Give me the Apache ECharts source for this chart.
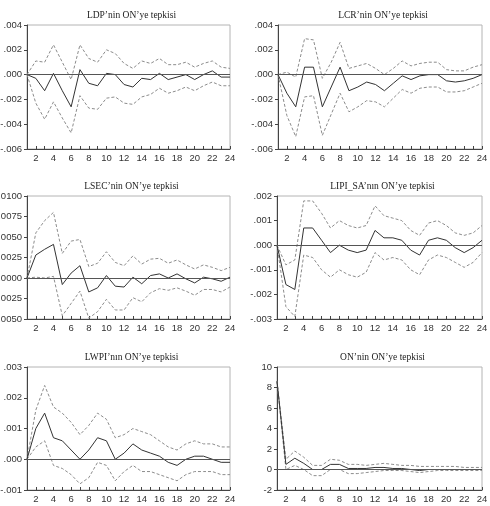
<!DOCTYPE html>
<html>
<head>
<meta charset="utf-8">
<script src="https://cdn.jsdelivr.net/npm/echarts@6/dist/echarts.min.js"></script>
<style>
html, body { margin: 0; padding: 0; background: #fff; }
#chart { width: 490px; height: 506px; }
</style>
</head>
<body>
<div id="chart"></div>
<script>
// periods 1..24
const periods = Array.from({ length: 24 }, (_, i) => String(i + 1))

const titles = [
  'LDP’nin ON’ye tepkisi',
  'LCR’nin ON’ye tepkisi',
  'LSEC’nin ON’ye tepkisi',
  'LIPI_SA’nın ON’ye tepkisi',
  'LWPI’nın ON’ye tepkisi',
  'ON’nin ON’ye tepkisi'
]

// LDP
const ldpMid = [0, -0.0003, -0.0013, 0.0001, -0.0013, -0.0026, 0.0004, -0.0007, -0.0009, 0.0001, 0.0000, -0.0008, -0.001, -0.0003, -0.0004, 0.0001, -0.0004, -0.0002, 0.0000, -0.0004, 0.0000, 0.0003, -0.0002, -0.0002]
const ldpUp = [0, 0.0011, 0.001, 0.0024, 0.001, -0.0004, 0.0024, 0.0013, 0.001, 0.002, 0.0017, 0.0009, 0.0005, 0.0011, 0.0009, 0.0013, 0.0008, 0.0008, 0.001, 0.0006, 0.0009, 0.0011, 0.0006, 0.0005]
const ldpLo = [0, -0.0023, -0.0036, -0.0022, -0.0035, -0.0047, -0.0017, -0.0027, -0.0028, -0.0019, -0.0018, -0.0023, -0.0024, -0.0018, -0.0016, -0.0011, -0.0015, -0.0013, -0.001, -0.0013, -0.0009, -0.0006, -0.0009, -0.0009]

// LCR
const lcrMid = [0, -0.0015, -0.0026, 0.0006, 0.0006, -0.0026, -0.001, 0.0006, -0.0013, -0.001, -0.0006, -0.0008, -0.0013, -0.0007, -0.0001, -0.0004, -0.0001, 0.0000, 0.0000, -0.0005, -0.0006, -0.0005, -0.0003, 0.0000]
const lcrUp = [0, 0.0002, -0.0002, 0.0029, 0.0028, -0.0003, 0.001, 0.0026, 0.0005, 0.0007, 0.0009, 0.0005, 0.0000, 0.0005, 0.0011, 0.0007, 0.0009, 0.001, 0.001, 0.0004, 0.0003, 0.0003, 0.0006, 0.0008]
const lcrLo = [0, -0.0033, -0.005, -0.0018, -0.0017, -0.0049, -0.0032, -0.0015, -0.003, -0.0026, -0.0021, -0.0022, -0.0026, -0.0019, -0.0012, -0.0015, -0.0011, -0.001, -0.001, -0.0014, -0.0014, -0.0013, -0.001, -0.0007]

// LSEC
const lsecMid = [0, 0.0028, 0.0035, 0.0041, -0.0008, 0.0006, 0.0015, -0.0017, -0.0012, 0.0003, -0.001, -0.0011, 0.0001, -0.0007, 0.0003, 0.0005, 0.0000, 0.0005, -0.0001, -0.0006, 0.0001, -0.0001, -0.0004, 0.0001]
const lsecUp = [0, 0.0055, 0.007, 0.008, 0.003, 0.0045, 0.0047, 0.0014, 0.0018, 0.0032, 0.0019, 0.0015, 0.0027, 0.0017, 0.0023, 0.0024, 0.0018, 0.0022, 0.0016, 0.0011, 0.0016, 0.0013, 0.0009, 0.0013]
const lsecLo = [0, 0.0001, 0.0000, 0.0002, -0.0046, -0.0031, -0.0016, -0.0049, -0.0041, -0.0026, -0.0039, -0.0039, -0.0024, -0.0029, -0.0018, -0.0013, -0.0015, -0.0012, -0.0016, -0.0021, -0.0014, -0.0014, -0.0017, -0.0011]

// LIPI_SA
const lipiMid = [0, -0.0016, -0.0018, 0.0007, 0.0007, 0.0002, -0.0003, 0.0000, -0.0002, -0.0003, -0.0002, 0.0006, 0.0003, 0.0003, 0.0002, -0.0002, -0.0004, 0.0002, 0.0003, 0.0002, -0.0001, -0.0003, -0.0001, 0.0002]
const lipiUp = [0, -0.0008, -0.0006, 0.0018, 0.0018, 0.0013, 0.0007, 0.001, 0.0008, 0.0007, 0.0008, 0.0016, 0.0012, 0.0011, 0.001, 0.0006, 0.0004, 0.0009, 0.001, 0.0008, 0.0005, 0.0004, 0.0005, 0.0008]
const lipiLo = [0, -0.0025, -0.0029, -0.0004, -0.0005, -0.001, -0.0013, -0.001, -0.0012, -0.0013, -0.0011, -0.0003, -0.0006, -0.0005, -0.0006, -0.001, -0.0012, -0.0006, -0.0004, -0.0005, -0.0007, -0.0009, -0.0007, -0.0003]

// LWPI
const lwpiMid = [0, 0.001, 0.0015, 0.0007, 0.0006, 0.0003, 0.0000, 0.0003, 0.0007, 0.0006, 0.0000, 0.0002, 0.0005, 0.0003, 0.0002, 0.0001, -0.0001, -0.0002, 0.0000, 0.0001, 0.0001, 0.0000, -0.0001, -0.0001]
const lwpiUp = [0, 0.0016, 0.0024, 0.0017, 0.0015, 0.0012, 0.0008, 0.0011, 0.0015, 0.0013, 0.0007, 0.0008, 0.001, 0.0009, 0.0008, 0.0006, 0.0004, 0.0003, 0.0005, 0.0006, 0.0005, 0.0005, 0.0004, 0.0004]
const lwpiLo = [0, 0.0004, 0.0006, -0.0002, -0.0003, -0.0005, -0.0008, -0.0006, -0.0001, -0.0002, -0.0007, -0.0004, -0.0002, -0.0004, -0.0004, -0.0005, -0.0006, -0.0007, -0.0005, -0.0004, -0.0004, -0.0004, -0.0005, -0.0005]

// ON
const onMid = [8.6, 0.5, 1.1, 0.6, 0.0, 0.0, 0.5, 0.5, 0.1, 0.1, 0.1, 0.2, 0.2, 0.1, 0.1, 0.0, -0.1, 0.0, 0.0, 0.0, 0.0, 0.0, 0.0, 0.0]
const onUp = [8.6, 1.0, 1.8, 1.2, 0.4, 0.4, 1.0, 0.9, 0.5, 0.5, 0.4, 0.5, 0.6, 0.5, 0.4, 0.4, 0.3, 0.3, 0.3, 0.3, 0.3, 0.2, 0.2, 0.2]
const onLo = [8.6, 0.0, 0.4, 0.0, -0.6, -0.6, 0.0, 0.0, -0.4, -0.4, -0.3, -0.2, -0.1, -0.1, -0.1, -0.2, -0.3, -0.2, -0.1, -0.1, -0.1, -0.1, -0.1, -0.1]

// y axis ranges: [min, max, interval, decimals]
const yRanges = [
  [-0.006, 0.004, 0.002, 3],
  [-0.006, 0.004, 0.002, 3],
  [-0.005, 0.01, 0.0025, 4],
  [-0.003, 0.002, 0.001, 3],
  [-0.001, 0.003, 0.001, 3],
  [-2, 10, 2, 0]
]

const panelData = [
  [ldpMid, ldpUp, ldpLo],
  [lcrMid, lcrUp, lcrLo],
  [lsecMid, lsecUp, lsecLo],
  [lipiMid, lipiUp, lipiLo],
  [lwpiMid, lwpiUp, lwpiLo],
  [onMid, onUp, onLo]
]

// grid boxes [left, top, width, height]
const boxes = [
  [27, 25, 203, 124],
  [278, 25, 204, 124],
  [27, 196, 203, 123],
  [277, 196, 205, 123],
  [27, 367, 203, 123],
  [277, 367, 205, 123]
]

const fmt = (dec) => (v) => {
  const s = Number(v).toFixed(dec)
  return dec === 0 ? s : s.replace(/^(-?)0\./, '$1.')
}

const chart = echarts.init(document.getElementById('chart'))

const grid = []
const xAxis = []
const yAxis = []
const series = []
const title = []

boxes.forEach((b, i) => {
  grid.push({
    left: b[0],
    top: b[1],
    width: b[2],
    height: b[3],
    outerBoundsMode: 'none',
    containLabel: false,
    show: true,
    borderColor: '#b4b4b4',
    borderWidth: 1
  })
  title.push({
    text: titles[i],
    left: b[0] + b[2] / 2 - 2,
    top: b[1] - 20,
    textAlign: 'center',
    textStyle: {
      fontFamily: 'Liberation Serif',
      fontSize: 9.5,
      fontWeight: 'normal',
      color: '#222'
    }
  })
  xAxis.push({
    type: 'category',
    gridIndex: i,
    data: periods,
    boundaryGap: false,
    axisLine: { onZero: false, lineStyle: { color: '#444', width: 1 } },
    axisTick: {
      inside: true,
      length: 3,
      interval: 0,
      lineStyle: { color: '#444' }
    },
    axisLabel: {
      interval: (idx) => idx % 2 === 1,
      margin: 4,
      fontFamily: 'Liberation Sans',
      fontSize: 9.5,
      color: '#333'
    },
    splitLine: { show: false }
  })
  const r = yRanges[i]
  yAxis.push({
    type: 'value',
    gridIndex: i,
    min: r[0],
    max: r[1],
    interval: r[2],
    axisLine: { show: true, onZero: false, lineStyle: { color: '#444', width: 1 } },
    axisTick: { show: true, length: 3, lineStyle: { color: '#444' } },
    axisLabel: {
      formatter: fmt(r[3]),
      margin: 5,
      fontFamily: 'Liberation Sans',
      fontSize: 9.5,
      color: '#333'
    },
    splitLine: { show: false }
  })
  const d = panelData[i]
  series.push({
    type: 'line',
    xAxisIndex: i,
    yAxisIndex: i,
    data: d[1],
    symbol: 'none',
    silent: true,
    lineStyle: { color: '#8c8c8c', width: 1, type: [3, 2] }
  })
  series.push({
    type: 'line',
    xAxisIndex: i,
    yAxisIndex: i,
    data: d[2],
    symbol: 'none',
    silent: true,
    lineStyle: { color: '#8c8c8c', width: 1, type: [3, 2] }
  })
  series.push({
    type: 'line',
    xAxisIndex: i,
    yAxisIndex: i,
    data: d[0],
    symbol: 'none',
    silent: true,
    lineStyle: { color: '#333', width: 1 },
    markLine: {
      silent: true,
      symbol: 'none',
      label: { show: false },
      lineStyle: { color: '#555', width: 1, type: 'solid' },
      data: [{ yAxis: 0 }]
    }
  })
})

chart.setOption({
  animation: false,
  backgroundColor: '#fff',
  title: title,
  grid: grid,
  xAxis: xAxis,
  yAxis: yAxis,
  series: series
})
</script>
</body>
</html>
